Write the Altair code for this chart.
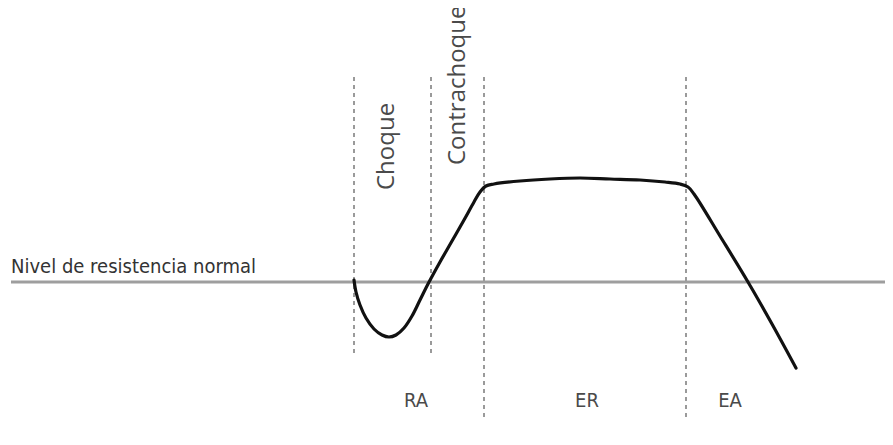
import altair as alt
import pandas as pd

# Curve: time (x) vs resistance (y, relative to normal level = 0)
curve_t = [354, 356, 360, 366, 374, 382, 389, 396, 404, 412, 420, 428, 440, 452, 464, 474, 480, 486, 494, 520, 550, 580, 610, 640, 665, 680, 688, 694, 720, 748, 772, 796]
curve_r = [2, -10, -23, -36, -47, -53, -55, -53, -46, -34, -18, -2, 20, 41, 62, 80, 90, 96, 98, 101, 103, 104, 103, 102, 100, 98, 95, 88, 46, 0, -42, -86]

# Phase boundaries (dashed lines)
bound_t = [354, 431, 484, 686]
bound_top = [205, 205, 205, 205]
bound_bottom = [-75, -75, -138, -138]

# Normal resistance level
normal_level = [0]
normal_start = [11]
normal_end = [885]

# Phase labels
phase_names = ["RA", "ER", "EA"]
phase_t = [416, 587, 730]
phase_r = [-125, -125, -125]

# Vertical labels
vert_names = ["Choque", "Contrachoque"]
vert_t = [394, 465]
vert_r = [92, 117]

FONT_N = "Liberation Sans Narrow, DejaVu Sans Condensed, sans-serif"
FONT = "Open Sans, Noto Sans, sans-serif"

xs = alt.Scale(domain=[8, 885], nice=False, zero=False)
ys = alt.Scale(domain=[-155, 274], nice=False, zero=False)

curve_df = pd.DataFrame({"t": curve_t, "r": curve_r})
bound_df = pd.DataFrame({"t": bound_t, "top": bound_top, "bottom": bound_bottom})
normal_df = pd.DataFrame({"r": normal_level, "t0": normal_start, "t1": normal_end})
phase_df = pd.DataFrame({"name": phase_names, "t": phase_t, "r": phase_r})
vert_df = pd.DataFrame({"name": vert_names, "t": vert_t, "r": vert_r})
label_df = pd.DataFrame({"name": ["Nivel de resistencia normal"], "t": [11], "r": [9]})
o_df = pd.DataFrame({"name": ["O"], "t": [481], "r": [-178]})

normal = alt.Chart(normal_df).mark_rule(color="#9e9e9e", strokeWidth=3).encode(
    x=alt.X("t0:Q", scale=xs, axis=None), x2="t1:Q",
    y=alt.Y("r:Q", scale=ys, axis=None))

bounds = alt.Chart(bound_df).mark_rule(color="#9a9a9a", strokeWidth=2, strokeDash=[4, 4]).encode(
    x=alt.X("t:Q", scale=xs, axis=None),
    y=alt.Y("top:Q", scale=ys, axis=None), y2="bottom:Q")

line = alt.Chart(curve_df).mark_line(color="#111111", strokeWidth=3.2, interpolate="catmull-rom",
                                     strokeCap="round").encode(
    x=alt.X("t:Q", scale=xs, axis=None),
    y=alt.Y("r:Q", scale=ys, axis=None))

phases = alt.Chart(phase_df).mark_text(font=FONT_N, fontSize=20, color="#4a4a4a",
                                       align="center", baseline="alphabetic").encode(
    x=alt.X("t:Q", scale=xs, axis=None),
    y=alt.Y("r:Q", scale=ys, axis=None), text="name:N")

verts = alt.Chart(vert_df).mark_text(font=FONT, fontSize=24, color="#4a4a4a", angle=270,
                                     align="left", baseline="alphabetic").encode(
    x=alt.X("t:Q", scale=xs, axis=None),
    y=alt.Y("r:Q", scale=ys, axis=None), text="name:N")

label = alt.Chart(label_df).mark_text(font=FONT_N, fontSize=20, color="#333333",
                                      align="left", baseline="alphabetic").encode(
    x=alt.X("t:Q", scale=xs, axis=None),
    y=alt.Y("r:Q", scale=ys, axis=None), text="name:N")

o_mark = alt.Chart(o_df).mark_text(font=FONT, fontSize=26, color="#666666",
                                   align="center", baseline="middle").encode(
    x=alt.X("t:Q", scale=xs, axis=None),
    y=alt.Y("r:Q", scale=ys, axis=None), text="name:N")

chart = alt.layer(normal, bounds, line, phases, verts, label, o_mark).properties(
    width=877, height=429, padding=0, autosize=alt.AutoSizeParams(type="none"),
    background="white"
).configure_view(stroke=None)

chart.save("out.html", embed_options={"renderer": "svg", "actions": False})
